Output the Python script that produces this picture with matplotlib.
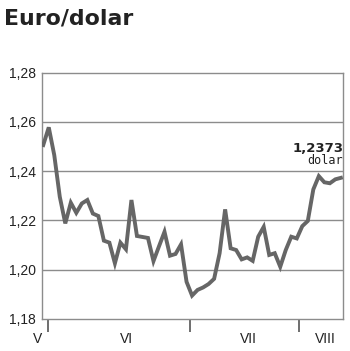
import matplotlib
matplotlib.use("Agg")
import matplotlib.pyplot as plt
import matplotlib.transforms as mtransforms
import numpy as np

# euro/dollar rate, one value per trading day
rate = [1.2506, 1.2578, 1.2465, 1.2296, 1.2188, 1.2272, 1.2231, 1.2269, 1.2283,
        1.2228, 1.2218, 1.2118, 1.2110, 1.2026, 1.2110, 1.2083, 1.2283, 1.2137,
        1.2133, 1.2129, 1.2035, 1.2095, 1.2154, 1.2057, 1.2064, 1.2103, 1.1951,
        1.1895, 1.1918, 1.1928, 1.1942, 1.1963, 1.2067, 1.2245, 1.2087, 1.2080,
        1.2042, 1.2050, 1.2036, 1.2134, 1.2174, 1.2060, 1.2067, 1.2012, 1.2080,
        1.2134, 1.2127, 1.2177, 1.2198, 1.2326, 1.2380, 1.2355, 1.2351, 1.2367,
        1.2373]
month_breaks = [0.8, 26.6, 46.4]
month_names = ["V", "VI", "VII", "VIII"]
month_label_pos = [-1.0, 15.1, 37.3, 51.1]
yticks = [1.18, 1.20, 1.22, 1.24, 1.26, 1.28]
last_label = "1,2373"
unit_label = "dolar"

GRID = "#8c8c8c"
LINE = "#666666"

fig = plt.figure(figsize=(3.5, 3.51), dpi=100)
ax = fig.add_axes([0.119, 0.0912, 0.862, 0.7018])

x = np.arange(len(rate))
ax.plot(x, rate, color=LINE, lw=2.8, solid_joinstyle="miter", zorder=3)

ax.set_xlim(-0.29, 54.45)
ax.set_ylim(1.18, 1.28)

ax.set_yticks(yticks)
ax.set_yticklabels([f"{v:.2f}".replace(".", ",") for v in yticks],
                   fontsize=10, family="Liberation Sans", color="#222222")
ax.tick_params(axis="y", length=0, pad=4)
for v in yticks[1:-1]:
    ax.axhline(v, color=GRID, lw=1.0, zorder=1)

ax.set_xticks(month_breaks)
ax.set_xticklabels([])
ax.tick_params(axis="x", length=9.5, width=1.2, color="#555555", direction="out")

for s in ax.spines.values():
    s.set_color(GRID)
    s.set_linewidth(1.0)

trans = mtransforms.blended_transform_factory(ax.transData, ax.transAxes)
for pos, name in zip(month_label_pos, month_names):
    ax.text(pos, -0.08, name, transform=trans, ha="center", va="center",
            fontsize=10, family="Liberation Sans", color="#222222", clip_on=False)

ax.text(54.45, 1.2494, last_label, ha="right", va="center", fontsize=9.5,
        fontweight="bold", color="#222222")
ax.text(54.45, 1.2445, unit_label, ha="right", va="center", fontsize=8.5,
        family="DejaVu Sans Mono", color="#222222")

fig.text(0.01, 0.948, "Euro/dolar", fontsize=15.8, fontweight="bold",
         color="#222222", ha="left", va="center")

fig.savefig("out.png", dpi=100, facecolor="white")
